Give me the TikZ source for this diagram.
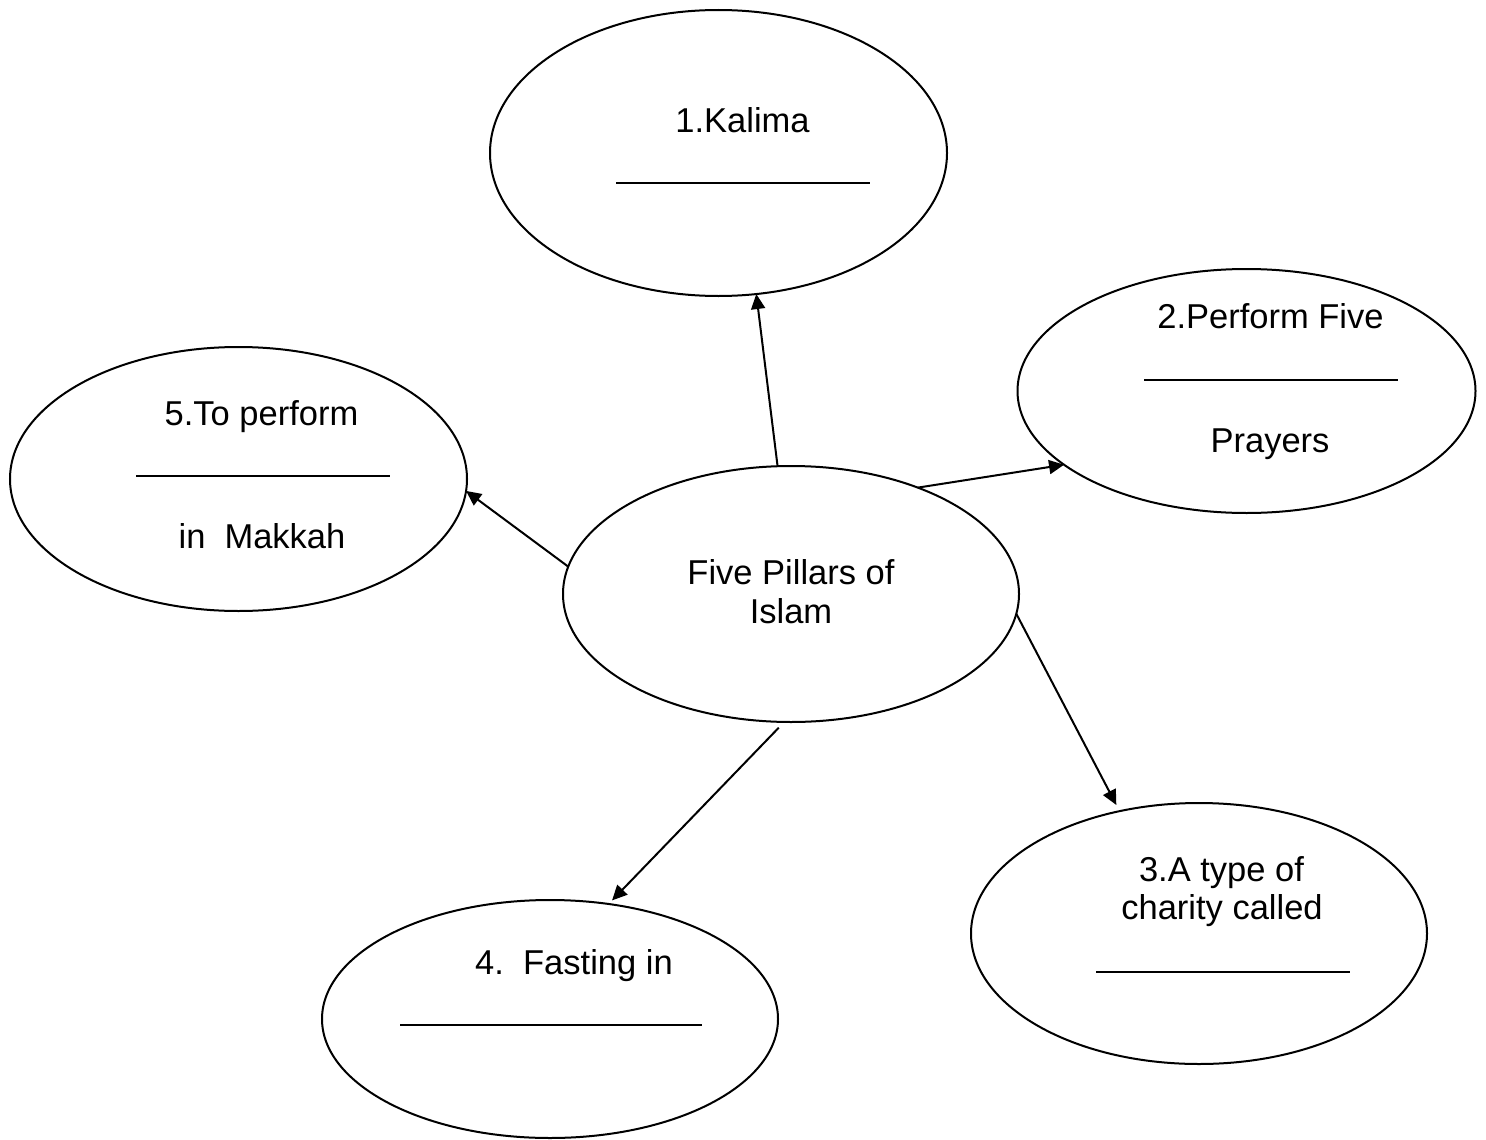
\documentclass[tikz,border=0pt]{standalone}
\usepackage{fontspec}
\setmainfont{Liberation Sans}
\usetikzlibrary{shapes.geometric,arrows.meta}
\frenchspacing
\begin{document}
\begin{tikzpicture}[x=1pt,y=-1pt,
    pillar/.style={draw, ellipse, line width=2pt, inner sep=0pt, outer sep=0pt},
    lbl/.style={anchor=base, inner sep=0pt, font=\fontsize{34.5pt}{39pt}\selectfont},
    blank/.style={line width=2.5pt}]
      \useasboundingbox (0,0) rectangle (1486,1140);
      \draw
        (791,594) node[pillar, minimum width=456pt, minimum height=256pt] (pillars){}
        (718.5,153) node[pillar, minimum width=457pt, minimum height=286pt] (kalima){}
        (1246.5,391) node[pillar, minimum width=458pt, minimum height=244pt] (salah){}
        (1199,933.5) node[pillar, minimum width=456pt, minimum height=261pt] (zakat){}
        (550,1019) node[pillar, minimum width=456pt, minimum height=238pt] (sawm){}
        (238.5,479) node[pillar, minimum width=457pt, minimum height=264pt] (hajj){};
      \node[lbl] (pillars1) at (791,584) {Five Pillars of};
      \node[lbl] (pillars2) at (791,623) {Islam};
      \node[lbl] (kalima1) at (742.5,132) {1.Kalima};
      \node[lbl] (salah1) at (1270.5,328) {2.Perform Five};
      \node[lbl] (salah2) at (1270,452) {Prayers};
      \node[lbl] (zakat1) at (1221.5,881) {3.A type of};
      \node[lbl] (zakat2) at (1222,919) {charity called};
      \node[lbl] (sawm1) at (574,974) {4.\ \ Fasting in};
      \node[lbl] (hajj1) at (261.5,425) {5.To perform};
      \node[lbl] (hajj2) at (262,548) {in\ \ Makkah};
      % blanks to fill in
      \begin{scope}[blank]
        \draw (616,183) -- (870,183);
        \draw (1144,380) -- (1398,380);
        \draw (1096,972) -- (1350,972);
        \draw (400,1025) -- (702,1025);
        \draw (136,476) -- (390,476);
      \end{scope}
      \begin{scope}[line width=2pt, -{Triangle[length=15pt,width=14pt]}]
        \draw (pillars.96) to (kalima.-75);
        \draw (pillars.40) to (salah.202);
        \draw[shorten >=7pt] (pillars.-5) to (zakat.123);
        \draw[shorten <=8pt, shorten >=5pt] (pillars.-93) to (sawm.63);
        \draw (pillars.173) to (hajj.-3);
      \end{scope}
    \end{tikzpicture}
\end{document}
